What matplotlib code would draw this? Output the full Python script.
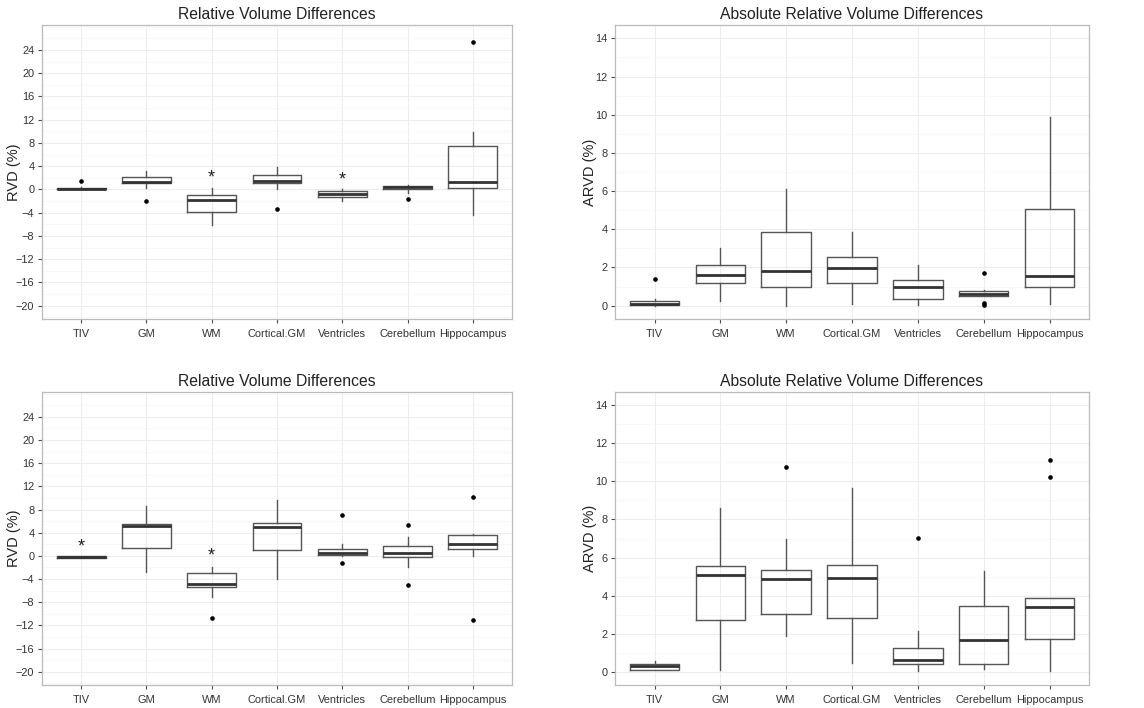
import matplotlib
matplotlib.use("Agg")
import matplotlib.pyplot as plt
from matplotlib.ticker import MultipleLocator

plt.rcParams['font.family'] = ['Liberation Sans', 'DejaVu Sans']

categories = ["TIV", "GM", "WM", "Cortical.GM", "Ventricles", "Cerebellum", "Hippocampus"]

# ---- Top-left: RVD (set 1) ----
rvd1_whislo = [0.0, 0.23, -6.07, 0.0, -2.06, -0.6, -4.35]
rvd1_q1     = [0.0, 1.03, -3.84, 1.03, -1.32, 0.0, 0.23]
rvd1_med    = [0.1, 1.26, -1.78, 1.37, -0.8, 0.34, 1.32]
rvd1_q3     = [0.3, 2.12, -0.97, 2.4, -0.29, 0.63, 7.39]
rvd1_whishi = [0.35, 3.1, 0.23, 3.84, 0.0, 0.8, 9.85]
rvd1_fliers = [[1.43], [-2.0], [], [-3.44], [], [-1.72], [25.37]]
rvd1_stars  = {"WM": 1.95, "Ventricles": 1.6}

# ---- Top-right: ARVD (set 1) ----
arvd1_whislo = [0.0, 0.26, 0.0, 0.07, 0.03, 0.51, 0.09]
arvd1_q1     = [0.05, 1.21, 1.0, 1.21, 0.35, 0.51, 0.96]
arvd1_med    = [0.1, 1.63, 1.84, 1.96, 0.98, 0.6, 1.54]
arvd1_q3     = [0.245, 2.15, 3.87, 2.56, 1.35, 0.75, 5.07]
arvd1_whishi = [0.33, 3.01, 6.09, 3.87, 2.12, 0.82, 9.89]
arvd1_fliers = [[1.42], [], [], [], [], [1.73, 0.12, 0.02], []]

# ---- Bottom-left: RVD (set 2) ----
rvd2_whislo = [-0.4, -2.7, -7.06, -4.0, -0.1, -1.95, 0.06]
rvd2_q1     = [-0.4, 1.43, -5.39, 1.03, 0.11, -0.17, 1.26]
rvd2_med    = [-0.25, 5.1, -4.88, 4.93, 0.57, 0.46, 2.0]
rvd2_q3     = [-0.1, 5.56, -2.98, 5.62, 1.2, 1.66, 3.56]
rvd2_whishi = [-0.1, 8.66, -1.95, 9.64, 2.07, 3.33, 3.79]
rvd2_fliers = [[], [], [-10.79], [], [7.0, -1.2], [5.28, -4.99], [10.21, -11.13]]
rvd2_stars  = {"TIV": 1.6, "WM": -0.1}

# ---- Bottom-right: ARVD (set 2) ----
arvd2_whislo = [0.07, 0.09, 1.9, 0.44, 0.03, 0.12, 0.03]
arvd2_q1     = [0.1, 2.72, 3.04, 2.83, 0.4, 0.38, 1.73]
arvd2_med    = [0.3, 5.08, 4.87, 4.94, 0.61, 1.66, 3.4]
arvd2_q3     = [0.42, 5.53, 5.32, 5.6, 1.24, 3.44, 3.86]
arvd2_whishi = [0.56, 8.62, 6.98, 9.67, 2.13, 5.31, 3.86]
arvd2_fliers = [[], [], [10.77], [], [7.02], [], [11.12, 10.25]]

rvd_ticks = list(range(-20, 25, 4))
arvd_ticks = list(range(0, 15, 2))

fig = plt.figure(figsize=(11.44, 7.08), dpi=100)

def make_stats(whislo, q1, med, q3, whishi, fliers):
    out = []
    for i in range(len(categories)):
        out.append(dict(whislo=whislo[i], q1=q1[i], med=med[i], q3=q3[i],
                        whishi=whishi[i], fliers=fliers[i], label=categories[i]))
    return out

def draw(rect, stats, title, ylabel, ylim, yticks, minor, label_x, stars=None):
    ax = fig.add_axes(rect)
    ax.set_facecolor("white")
    ax.bxp(stats, positions=range(1, len(categories) + 1), widths=0.75,
           patch_artist=False,
           boxprops=dict(color="#555555", linewidth=1.0),
           whiskerprops=dict(color="#555555", linewidth=1.0),
           capprops=dict(linewidth=0),
           medianprops=dict(color="#333333", linewidth=2.0),
           flierprops=dict(marker="o", markersize=2.3, markerfacecolor="black",
                           markeredgecolor="black", linestyle="none"),
           showcaps=False, zorder=3)
    ax.set_xlim(0.4, len(categories) + 0.6)
    ax.set_ylim(*ylim)
    ax.set_yticks(yticks)
    ax.yaxis.set_minor_locator(MultipleLocator(minor))
    ax.set_xticks(range(1, len(categories) + 1))
    ax.set_xticklabels(categories)
    ax.grid(True, which="major", color="#ededed", linewidth=0.8, zorder=0)
    ax.grid(True, which="minor", axis="y", color="#f5f5f5", linewidth=0.5, zorder=0)
    ax.set_axisbelow(True)
    for s in ax.spines.values():
        s.set_color("#bbbbbb")
        s.set_linewidth(0.9)
    ax.tick_params(axis="both", which="major", labelsize=7.9, colors="#4d4d4d",
                   length=3, width=0.8, labelcolor="#333333", pad=2.5)
    ax.tick_params(axis="x", which="major", pad=4)
    ax.tick_params(axis="y", which="minor", length=0)
    ax.set_title(title, fontsize=11.3, color="#222222", pad=4)
    ax.set_ylabel(ylabel, fontsize=10.5, color="#222222")
    ax.yaxis.set_label_coords(label_x, 0.5)
    if stars:
        for cat, yv in stars.items():
            ax.text(categories.index(cat) + 1, yv, "*", ha="center", va="center",
                    fontsize=13, color="#222222", zorder=4)
    return ax

h_top = 294 / 708
h_bot = 293 / 708
draw([42 / 1144, 1 - 319 / 708, 470 / 1144, h_top],
     make_stats(rvd1_whislo, rvd1_q1, rvd1_med, rvd1_q3, rvd1_whishi, rvd1_fliers),
     "Relative Volume Differences", "RVD (%)", (-22.3, 28.3), rvd_ticks, 2, -0.045, rvd1_stars)
draw([615 / 1144, 1 - 319 / 708, 474 / 1144, h_top],
     make_stats(arvd1_whislo, arvd1_q1, arvd1_med, arvd1_q3, arvd1_whishi, arvd1_fliers),
     "Absolute Relative Volume Differences", "ARVD (%)", (-0.7, 14.7), arvd_ticks, 1, -0.038)
draw([42 / 1144, 1 - 685 / 708, 470 / 1144, h_bot],
     make_stats(rvd2_whislo, rvd2_q1, rvd2_med, rvd2_q3, rvd2_whishi, rvd2_fliers),
     "Relative Volume Differences", "RVD (%)", (-22.3, 28.3), rvd_ticks, 2, -0.045, rvd2_stars)
draw([615 / 1144, 1 - 685 / 708, 474 / 1144, h_bot],
     make_stats(arvd2_whislo, arvd2_q1, arvd2_med, arvd2_q3, arvd2_whishi, arvd2_fliers),
     "Absolute Relative Volume Differences", "ARVD (%)", (-0.7, 14.7), arvd_ticks, 1, -0.038)

fig.savefig("out.png", dpi=100, facecolor="white")
